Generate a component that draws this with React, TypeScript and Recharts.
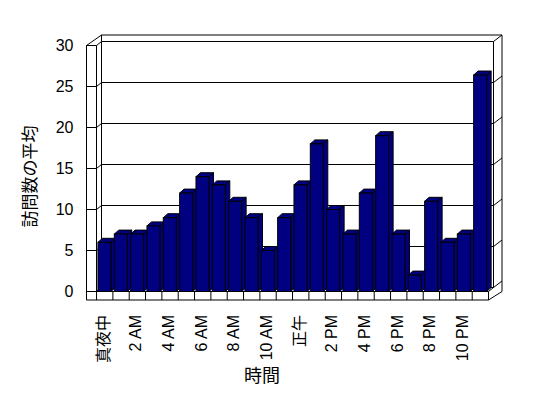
import React from 'react';
import { BarChart, Bar, XAxis, YAxis, CartesianGrid, ReferenceArea } from 'recharts';

const hours = [
  '真夜中', '1 AM', '2 AM', '3 AM', '4 AM', '5 AM', '6 AM', '7 AM', '8 AM', '9 AM', '10 AM', '11 AM',
  '正午', '1 PM', '2 PM', '3 PM', '4 PM', '5 PM', '6 PM', '7 PM', '8 PM', '9 PM', '10 PM', '11 PM',
];
const visits = [6, 7, 7, 8, 9, 12, 14, 13, 11, 9, 5, 9, 13, 18, 10, 7, 12, 19, 7, 2, 11, 6, 7, 26.4];
const yTicks = [0, 5, 10, 15, 20, 25, 30];

const data = hours.map((h, i) => ({ hour: h, visits: visits[i] }));

const FONT = "'Liberation Sans', 'Noto Sans CJK JP', sans-serif";
const NAVY = '#000080';
const GAP = 0.09;
const BDX = 4.5; // bar depth
const BDY = 4;
const WDX = 5; // wall depth
const WDY = 4;
const LW = 10; // left wall thickness
const FH = 8.5; // floor thickness
const ODX = 13.5; // outer box depth
const ODY = 10.5;

const Bar3D = (props: any) => {
  const { x, y, width, height } = props;
  const band = width / (1 - 2 * GAP);
  const bx = x - (band - width) / 2;
  const bottom = y + height;
  const r = x + width;
  return (
    <g>
      <line x1={bx} x2={bx} y1={bottom} y2={bottom + FH} stroke="#000" strokeWidth={1} />
      <path
        d={`M${r},${bottom} L${r + BDX},${bottom - BDY} L${r + BDX},${y - BDY} L${r},${y} Z`}
        fill={NAVY}
        stroke="#000"
        strokeWidth={1}
      />
      <path
        d={`M${x},${y} L${x + BDX},${y - BDY} L${r + BDX},${y - BDY} L${r},${y} Z`}
        fill={NAVY}
        stroke="#000"
        strokeWidth={1}
      />
      <rect x={x} y={y} width={width} height={height} fill={NAVY} stroke="#000" strokeWidth={1} />
    </g>
  );
};

const GridLine = (props: any) => {
  const { x1, x2, y1 } = props;
  const L = Math.min(x1, x2);
  const R = Math.max(x1, x2);
  const y = y1;
  return (
    <g key={`g-${y}`}>
      <line x1={L - LW} x2={L} y1={y} y2={y} stroke="#000" />
      <line x1={L} x2={L + WDX} y1={y} y2={y - WDY} stroke="#000" />
      <line x1={L + WDX} x2={R + WDX} y1={y - WDY} y2={y - WDY} stroke="#000" />
      <line x1={R + WDX} x2={R + ODX} y1={y - WDY} y2={y - ODY} stroke="#000" />
    </g>
  );
};

const Frame = (props: any) => {
  const { x, y, width, height } = props;
  const L = x;
  const T = y;
  const R = x + width;
  const B = y + height;
  const d = [
    `M${L - LW},${T} L${L - LW},${B + FH}`,
    `M${L},${T} L${L},${B}`,
    `M${L - LW},${T} L${L},${T}`,
    `M${L - LW},${T} L${L - LW + ODX + 1.5},${T - ODY}`,
    `M${L + WDX},${T - ODY} L${L + WDX},${T - WDY}`,
    `M${L - LW + ODX + 1.5},${T - ODY} L${R + ODX},${T - ODY}`,
    `M${R + ODX},${T - ODY} L${R + ODX},${B}`,
    `M${R + WDX},${T - WDY} L${R + WDX},${B - WDY}`,
    `M${R},${B + FH} L${R + ODX},${B}`,
    `M${R},${B} L${R + WDX},${B - WDY}`,
    `M${L - LW},${B + FH} L${R},${B + FH}`,
    `M${L},${B} L${R},${B}`,
    `M${R},${B} L${R},${B + FH}`,
  ].join(' ');
  return <path d={d} stroke="#000" strokeWidth={1} fill="none" />;
};

const BackLeftEdge = (props: any) => {
  const { x, y, height } = props;
  return <path d={`M${x + WDX},${y - WDY} L${x + WDX},${y + height - WDY}`} stroke="#000" fill="none" />;
};

const XTick = (props: any) => {
  const { x, y, payload } = props;
  return (
    <text
      transform={`translate(${x - 1.5},${y + 23.5}) rotate(-90)`}
      textAnchor="end"
      dominantBaseline="central"
      fontFamily={FONT}
      fontSize={16}
      fill="#000"
    >
      {payload.value}
    </text>
  );
};

const YTick = (props: any) => {
  const { x, y, payload } = props;
  return (
    <text x={x} y={y} textAnchor="end" dominantBaseline="central" fontFamily={FONT} fontSize={16} fill="#000">
      {payload.value}
    </text>
  );
};

const XTitle = (props: any) => {
  const vb = props.viewBox || {};
  return (
    <text
      x={vb.x + vb.width / 2 - 30.5}
      y={vb.y + 84.5}
      textAnchor="middle"
      dominantBaseline="central"
      fontFamily={FONT}
      fontSize={18}
      fill="#000"
    >
      時間
    </text>
  );
};

const YTitle = (props: any) => {
  const vb = props.viewBox || {};
  const cx = vb.x - 6.5;
  const cy = vb.y + vb.height / 2 + 8;
  return (
    <text
      transform={`translate(${cx},${cy}) rotate(-90)`}
      textAnchor="middle"
      dominantBaseline="central"
      fontFamily={FONT}
      fontSize={17}
      fill="#000"
    >
      訪問数の平均
    </text>
  );
};

export default function App() {
  return (
    <div style={{ position: 'absolute', left: 0, top: 0, width: 548, height: 398, background: '#fff' }}>
      <BarChart
        width={548}
        height={398}
        data={data}
        margin={{ top: 45.5, right: 59.5, bottom: 26.5, left: 36.5 }}
        barCategoryGap={`${GAP * 100}%`}
      >
        <CartesianGrid vertical={false} horizontal={(p: any) => <GridLine {...p} />} />
        <XAxis
          dataKey="hour"
          interval={1}
          tickLine={false}
          axisLine={false}
          tickSize={0}
          tickMargin={0}
          height={80}
          tick={<XTick />}
          label={(p: any) => <XTitle {...p} />}
        />
        <YAxis
          domain={[0, 30]}
          ticks={yTicks}
          tickLine={false}
          axisLine={false}
          tickSize={0}
          tickMargin={23}
          width={60}
          tick={<YTick />}
          label={(p: any) => <YTitle {...p} />}
        />
        <ReferenceArea y1={0} y2={30} shape={(p: any) => <BackLeftEdge {...p} />} fill="none" />
        <Bar dataKey="visits" shape={(p: any) => <Bar3D {...p} />} isAnimationActive={false} />
        <ReferenceArea y1={0} y2={30} shape={(p: any) => <Frame {...p} />} fill="none" />
      </BarChart>
    </div>
  );
}
